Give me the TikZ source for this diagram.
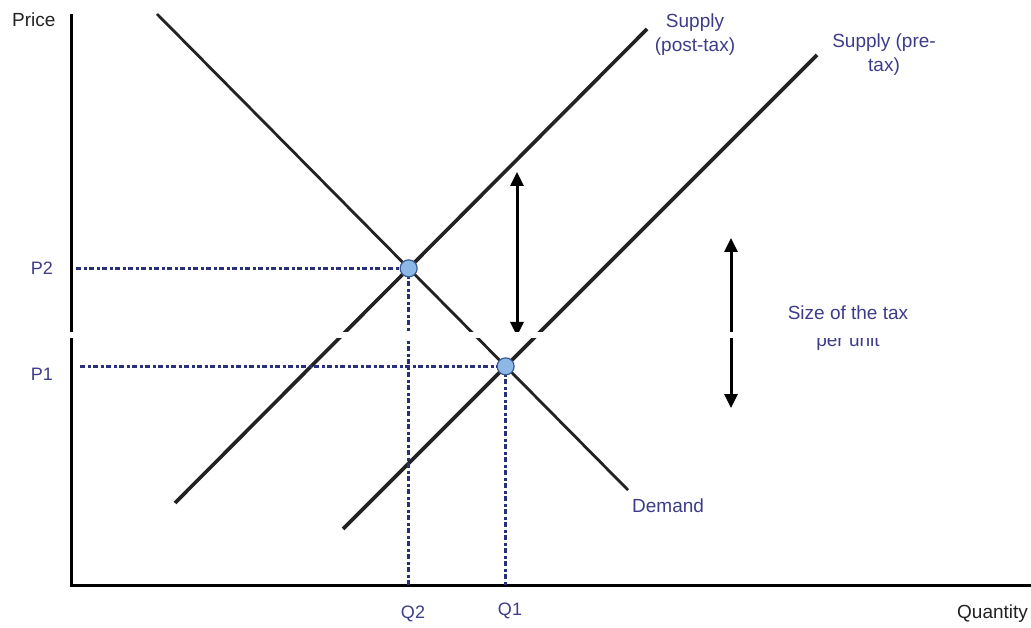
\documentclass[tikz,border=0pt]{standalone}
\usepackage{fontspec}
\setmainfont{Liberation Sans}
\usetikzlibrary{arrows.meta}
\definecolor{lbl}{HTML}{3C3C8A}
\definecolor{axislbl}{HTML}{222222}
\definecolor{guidecol}{HTML}{28307A}
\definecolor{dotfill}{HTML}{8DB8E6}
\definecolor{dotedge}{HTML}{3A5C94}
\definecolor{curvecol}{HTML}{222222}
\begin{document}
\begin{tikzpicture}[x=1pt,y=-1pt,
  axisline/.style={line width=3pt,black},
  demandline/.style={line width=2.8pt,curvecol},
  supplyline/.style={line width=3.6pt,curvecol},
  guide/.style={line width=3.5pt,guidecol,dash pattern=on 5pt off 2.5pt on 3pt off 2.5pt},
  eqdot/.style={circle,fill=dotfill,draw=dotedge,line width=1.2pt,minimum size=17pt,inner sep=0pt},
  taxarrow/.style={line width=3pt,black,{Triangle[length=14pt,width=13pt]}-{Triangle[length=14pt,width=13pt]}},
  bigtext/.style={font=\fontsize{19}{24}\selectfont,text=lbl,inner sep=0pt},
  smalltext/.style={font=\fontsize{18}{22}\selectfont,text=lbl,inner sep=0pt},
  axistext/.style={font=\fontsize{19}{24}\selectfont,text=axislbl,inner sep=0pt}]
\useasboundingbox (0,0) rectangle (1031,628);
% axes
\coordinate (O) at (71,585);
\coordinate (Ytop) at (71,14);
\coordinate (Xend) at (1031,585);
\draw[axisline] (Ytop) -- (O) -- (Xend);
% curves
\coordinate (d1) at (157,14);
\coordinate (d2) at (628,490);
\coordinate (s1) at (175,503);
\coordinate (s2) at (647,29);
\coordinate (p1) at (343,529);
\coordinate (p2) at (817,55);
\draw[demandline] (d1) -- (d2);
\draw[supplyline] (s1) -- (s2);
\draw[supplyline] (p1) -- (p2);
\coordinate (E2) at (intersection of d1--d2 and s1--s2);
\coordinate (E1) at (intersection of d1--d2 and p1--p2);
% guides
\draw[guide] ([xshift=5pt]O |- E2) -- (E2);
\draw[guide] (E2) -- (E2 |- O);
\draw[guide] ([xshift=9pt]O |- E1) -- (E1);
\draw[guide] (E1) -- (E1 |- O);
\node[eqdot] (e2) at (E2) {};
\node[eqdot] (e1) at (E1) {};
% tax arrows
\coordinate (a1t) at (517,172);
\coordinate (a1b) at (517,336);
\coordinate (a2t) at (731,238);
\coordinate (a2b) at (731,408);
\draw[taxarrow] (a1t) -- (a1b);
\draw[taxarrow] (a2t) -- (a2b);
% labels
\node[axistext,anchor=base west] (price) at (12,27) {Price};
\node[axistext,anchor=base west] (qty) at (957,618) {Quantity};
\node[bigtext,align=center] (lpost) at (695,35) {Supply\\(post-tax)};
\node[bigtext,align=center] (lpre) at (884,55) {Supply (pre-\\tax)};
\node[bigtext,anchor=base west] (ldem) at (632,512) {Demand};
\node[bigtext,anchor=base] (ltax1) at (848,320) {Size of the tax};
\node[bigtext,anchor=base] (ltax2) at (848,347) {per unit};
\node[smalltext] (lp2) at (42,268) {P2};
\node[smalltext] (lp1) at (42,374) {P1};
\node[smalltext] (lq2) at (413,614) {Q2};
\node[smalltext] (lq1) at (510,611) {Q1};
% white band across the picture
\fill[white] (0,332) rectangle (1031,338);
\end{tikzpicture}
\end{document}
